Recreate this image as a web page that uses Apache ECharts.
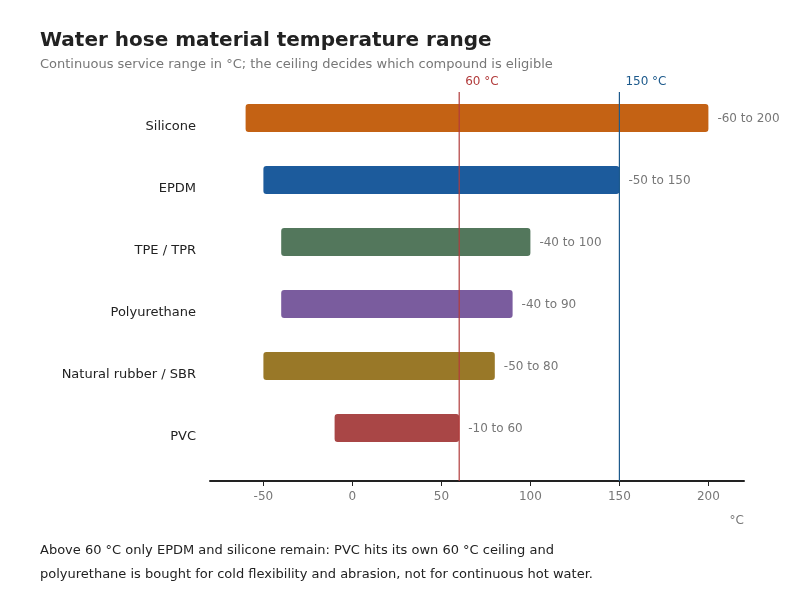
<!DOCTYPE html>
<html>
<head>
<meta charset="utf-8">
<script src="https://cdn.jsdelivr.net/npm/echarts@6/dist/echarts.min.js"></script>
<style>
  html, body { margin: 0; padding: 0; background: #fff; }
  #chart { width: 800px; height: 600px; }
</style>
</head>
<body>
<div id="chart"></div>
<script>
// 材料名称
const materials = ['Silicone', 'EPDM', 'TPE / TPR', 'Polyurethane', 'Natural rubber / SBR', 'PVC']
// 最低温度 / 最高温度 (°C)
const minTemp = [-60, -50, -40, -40, -50, -10]
const maxTemp = [200, 150, 100, 90, 80, 60]
const barColors = ['#c46214', '#1c5b9c', '#53775c', '#7a5c9e', '#997828', '#a94646']
// 横轴刻度
const xTicks = [-50, 0, 50, 100, 150, 200]
// 参考线
const refValues = [60, 150]
const refColors = ['#b23c3c', '#1d5a8c']

const fontFamily = 'DejaVu Sans'
const chart = echarts.init(document.getElementById('chart'))

const seriesData = materials.map((name, i) => [i, minTemp[i], maxTemp[i]])

const option = {
  animation: false,
  textStyle: { fontFamily: fontFamily },
  title: {
    text: 'Water hose material temperature range',
    subtext: 'Continuous service range in °C; the ceiling decides which compound is eligible',
    left: 40,
    top: 31,
    padding: 0,
    itemGap: 7,
    textStyle: { fontSize: 20, fontWeight: 'bold', color: '#222', fontFamily: fontFamily },
    subtextStyle: { fontSize: 13, color: '#777', fontFamily: fontFamily }
  },
  grid: { left: 210, right: 56, top: 92, bottom: 119 },
  xAxis: {
    type: 'value',
    min: -80,
    max: 220,
    name: '°C',
    nameLocation: 'end',
    nameGap: 0,
    nameTextStyle: { color: '#777', fontSize: 12, align: 'right', verticalAlign: 'top', padding: [34, 0, 0, 0] },
    axisLine: { show: true, onZero: false, lineStyle: { color: '#222', width: 2 } },
    axisTick: { show: true, length: 5, customValues: xTicks, lineStyle: { color: '#222' } },
    axisLabel: { customValues: xTicks, color: '#777', fontSize: 12, margin: 10 },
    splitLine: { show: false }
  },
  yAxis: {
    type: 'value',
    inverse: true,
    min: -0.42,
    max: 5.855,
    axisLine: { show: false },
    axisTick: { show: false },
    splitLine: { show: false },
    axisLabel: {
      customValues: materials.map((m, i) => i),
      formatter: v => materials[v] || '',
      color: '#222',
      fontSize: 13,
      margin: 14,
      verticalAlign: 'top',
      lineHeight: 17
    }
  },
  series: [{
    // 温度区间条
    type: 'custom',
    data: seriesData,
    renderItem(params, api) {
      const idx = api.value(0)
      const start = api.coord([api.value(1), idx])
      const end = api.coord([api.value(2), idx])
      const h = api.size([0, 1])[1] * 0.45
      return {
        type: 'group',
        children: [{
          type: 'rect',
          shape: { x: start[0], y: start[1] - h / 2, width: end[0] - start[0], height: h, r: 3 },
          style: { fill: barColors[idx] }
        }, {
          type: 'text',
          style: {
            x: end[0] + 9,
            y: end[1] + 1,
            text: api.value(1) + ' to ' + api.value(2),
            fill: '#777',
            font: '12px ' + fontFamily,
            verticalAlign: 'middle',
            align: 'left'
          }
        }]
      }
    }
  }, {
    // 参考线 60 °C / 150 °C
    type: 'custom',
    data: refValues.map(v => [v]),
    z: 3,
    silent: true,
    renderItem(params, api) {
      const v = api.value(0)
      const x = api.coord([v, 0])[0]
      const cs = params.coordSys
      const color = refColors[params.dataIndex]
      return {
        type: 'group',
        children: [{
          type: 'line',
          shape: { x1: x, y1: cs.y, x2: x, y2: cs.y + cs.height },
          style: { stroke: color, lineWidth: 1.2 }
        }, {
          type: 'text',
          style: {
            x: x + 6,
            y: cs.y - 10,
            text: v + ' °C',
            fill: color,
            font: '12px ' + fontFamily,
            verticalAlign: 'middle',
            align: 'left'
          }
        }]
      }
    }
  }],
  graphic: [{
    type: 'text',
    left: 40,
    top: 539,
    style: {
      text: 'Above 60 °C only EPDM and silicone remain: PVC hits its own 60 °C ceiling and\npolyurethane is bought for cold flexibility and abrasion, not for continuous hot water.',
      fill: '#222',
      font: '13px ' + fontFamily,
      lineHeight: 24
    }
  }]
}

chart.setOption(option)
</script>
</body>
</html>
